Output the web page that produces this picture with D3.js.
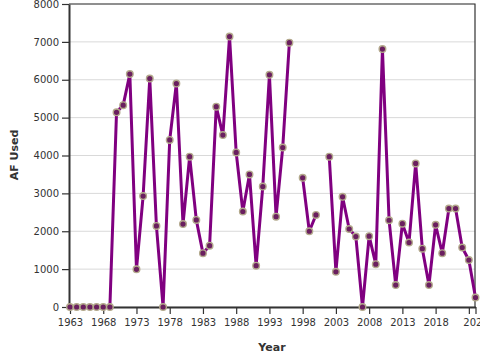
<!DOCTYPE html>
<html>
<head>
<meta charset="utf-8">
<script src="https://cdn.jsdelivr.net/npm/d3@7"></script>
<style>
  body { margin: 0; background: #fff; }
  svg { font-family: "DejaVu Sans", sans-serif; }
</style>
</head>
<body>
<div id="chart"></div>
<script>
// data (null = no value that year)
const years = d3.range(1963, 2025);
const afUsed = [
  0, 0, 0, 0, 0, 0, 0,                 // 1963-1969
  5140, 5330, 6150, 995, 2930, 6030, 2140, 0, 4410, 5900,   // 1970-1979
  2190, 3970, 2300, 1420, 1620, 5290, 4540, 7140, 4080, 2520, // 1980-1989
  3500, 1090, 3180, 6130, 2385, 4210, 6980, null, 3410, 2000, // 1990-1999
  2430, null, 3970, 930, 2910, 2060, 1860, 0, 1870, 1130,     // 2000-2009
  6810, 2290, 580, 2200, 1700, 3790, 1540, 580, 2170, 1420,   // 2010-2019
  2600, 2600, 1570, 1240, 250                                   // 2020-2024
];
const xTicks = [1963, 1968, 1973, 1978, 1983, 1988, 1993, 1998, 2003, 2008, 2013, 2018, 2023, 2024];
const yTicks = [0, 1000, 2000, 3000, 4000, 5000, 6000, 7000, 8000];

const data = years.map((y, i) => ({ year: y, value: afUsed[i] }));

const width = 480, height = 360;
const margin = { left: 69, right: 5, top: 4, bottom: 53 };

const svg = d3.select("#chart")
    .append("svg")
    .attr("width", width)
    .attr("height", height);

const x = d3.scaleLinear().domain([1963, 2024]).range([70, 475.5]);
const y = d3.scaleLinear().domain([0, 8000]).range([307, 4]);

// grid lines
svg.append("g")
    .selectAll("line")
    .data(yTicks)
    .enter()
    .append("line")
    .attr("x1", margin.left)
    .attr("x2", width - margin.right)
    .attr("y1", d => y(d))
    .attr("y2", d => y(d))
    .style("stroke", "#d9d9d9")
    .style("stroke-width", 1);

// frame top + right
svg.append("path")
    .attr("d", `M${margin.left},${y(8000)}H${width - margin.right}V${y(0)}`)
    .style("fill", "none")
    .style("stroke", "#333")
    .style("stroke-width", 1.2);

// axes
const xAxis = svg.append("g")
    .attr("transform", `translate(0, ${y(0)})`)
    .call(d3.axisBottom(x).tickValues(xTicks).tickSize(7).tickSizeOuter(0)
        .tickFormat(d => d === 2023 ? "" : d3.format("d")(d)));

const yAxis = svg.append("g")
    .attr("transform", `translate(${margin.left}, 0)`)
    .call(d3.axisLeft(y).tickValues(yTicks).tickSize(7).tickSizeOuter(0).tickFormat(d3.format("d")));

[xAxis, yAxis].forEach(ax => {
    ax.select(".domain").style("stroke", "#333").style("stroke-width", 2);
    ax.selectAll(".tick line").style("stroke", "#333").style("stroke-width", 1.2);
    ax.selectAll("text")
        .style("font-family", "DejaVu Sans, sans-serif")
        .style("font-size", "10px")
        .style("fill", "#333");
});
xAxis.selectAll("text").attr("dy", "0.9em");

// line with gaps
const line = d3.line()
    .defined(d => d.value !== null)
    .x(d => x(d.year))
    .y(d => y(d.value));

svg.append("path")
    .datum(data)
    .attr("d", line)
    .style("fill", "none")
    .style("stroke", "#800080")
    .style("stroke-width", 3)
    .style("stroke-linejoin", "round");

// points
svg.append("g")
    .selectAll("circle")
    .data(data.filter(d => d.value !== null))
    .enter()
    .append("circle")
    .attr("cx", d => x(d.year))
    .attr("cy", d => y(d.value))
    .attr("r", 3.3)
    .style("fill", "#6a1f5f")
    .style("stroke", "#b3a98c")
    .style("stroke-width", 1.4);

// axis titles
svg.append("text")
    .text("Year")
    .attr("x", 272)
    .attr("y", 351)
    .style("text-anchor", "middle")
    .style("font-size", "11px")
    .style("font-weight", "bold")
    .style("fill", "#333");

svg.append("text")
    .text("AF Used")
    .attr("transform", "translate(18, 155) rotate(-90)")
    .style("text-anchor", "middle")
    .style("font-size", "11px")
    .style("font-weight", "bold")
    .style("fill", "#333");
</script>
</body>
</html>
